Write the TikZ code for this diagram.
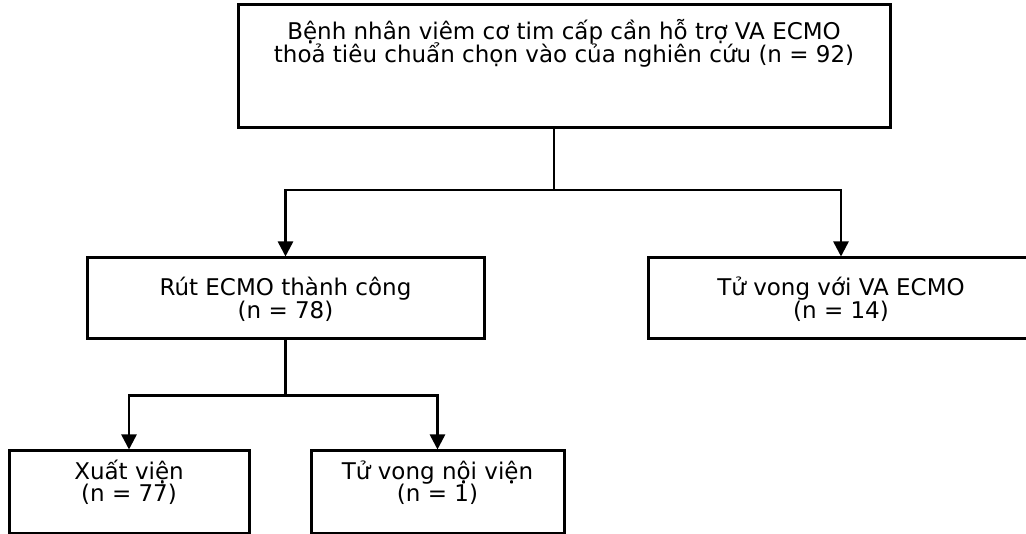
\documentclass[tikz,border=0pt]{standalone}
\usepackage{fontspec}
\setmainfont{DejaVu Sans}
\usetikzlibrary{arrows.meta}
\usetikzlibrary{calc}
\setlength{\lineskiplimit}{-100pt}

\tikzset{
 box/.style={draw=black, line width=3pt, inner sep=0pt},
 txt/.style={align=center, anchor=base, inner sep=0pt, font=\fontsize{23}{23}\selectfont},
 wire/.style={line width=2.5pt},
 link/.style={wire, -{Triangle[width=15pt,length=15pt]}},
}

\begin{document}
\begin{tikzpicture}[x=1pt,y=-1pt]
\useasboundingbox (0,0) rectangle (1026,534);
% boxes
\node[box, minimum width=652pt, minimum height=123pt] (start) at (564,66.5) {};
\node[box, minimum width=397pt, minimum height=81pt] (rut) at (285.5,298.5) {};
\node[box, minimum width=386pt, minimum height=81pt] (died) at (841,298.5) {};
\node[box, minimum width=240pt, minimum height=82pt] (home) at (129,492) {};
\node[box, minimum width=253pt, minimum height=82pt] (inhosp) at (437.5,492) {};
% texts (base = last line)
\node[txt] (startT) at (564,63) {Bệnh nhân viêm cơ tim cấp cần hỗ trợ VA ECMO\\thoả tiêu chuẩn chọn vào của nghiên cứu (n = 92)};
\begin{scope}
\clip (0,250) rectangle (1026,322);
\node[txt] (rutT) at (285.5,319) {Rút ECMO thành công\\(n = 78)};
\node[txt] (diedT) at (841,319) {Tử vong với VA ECMO\\(n = 14)};
\end{scope}
\node[txt] (homeT) at (129,502) {Xuất viện\\(n = 77)};
\node[txt] (inhospT) at (437.5,502) {Tử vong nội viện\\(n = 1)};
% connectors
\coordinate (fork1) at (554,190);
\draw[wire] (start.south -| fork1) -- (fork1);
\draw[link] (fork1) -| (rut.north);
\draw[link] (fork1) -| (died.north);
\coordinate (fork2) at ($(rut.south)+(0,55)$);
\draw[wire] (rut.south) -- (fork2);
\foreach \n in {home,inhosp}
 \draw[link] (fork2) -| (\n.north);
\end{tikzpicture}
\end{document}
